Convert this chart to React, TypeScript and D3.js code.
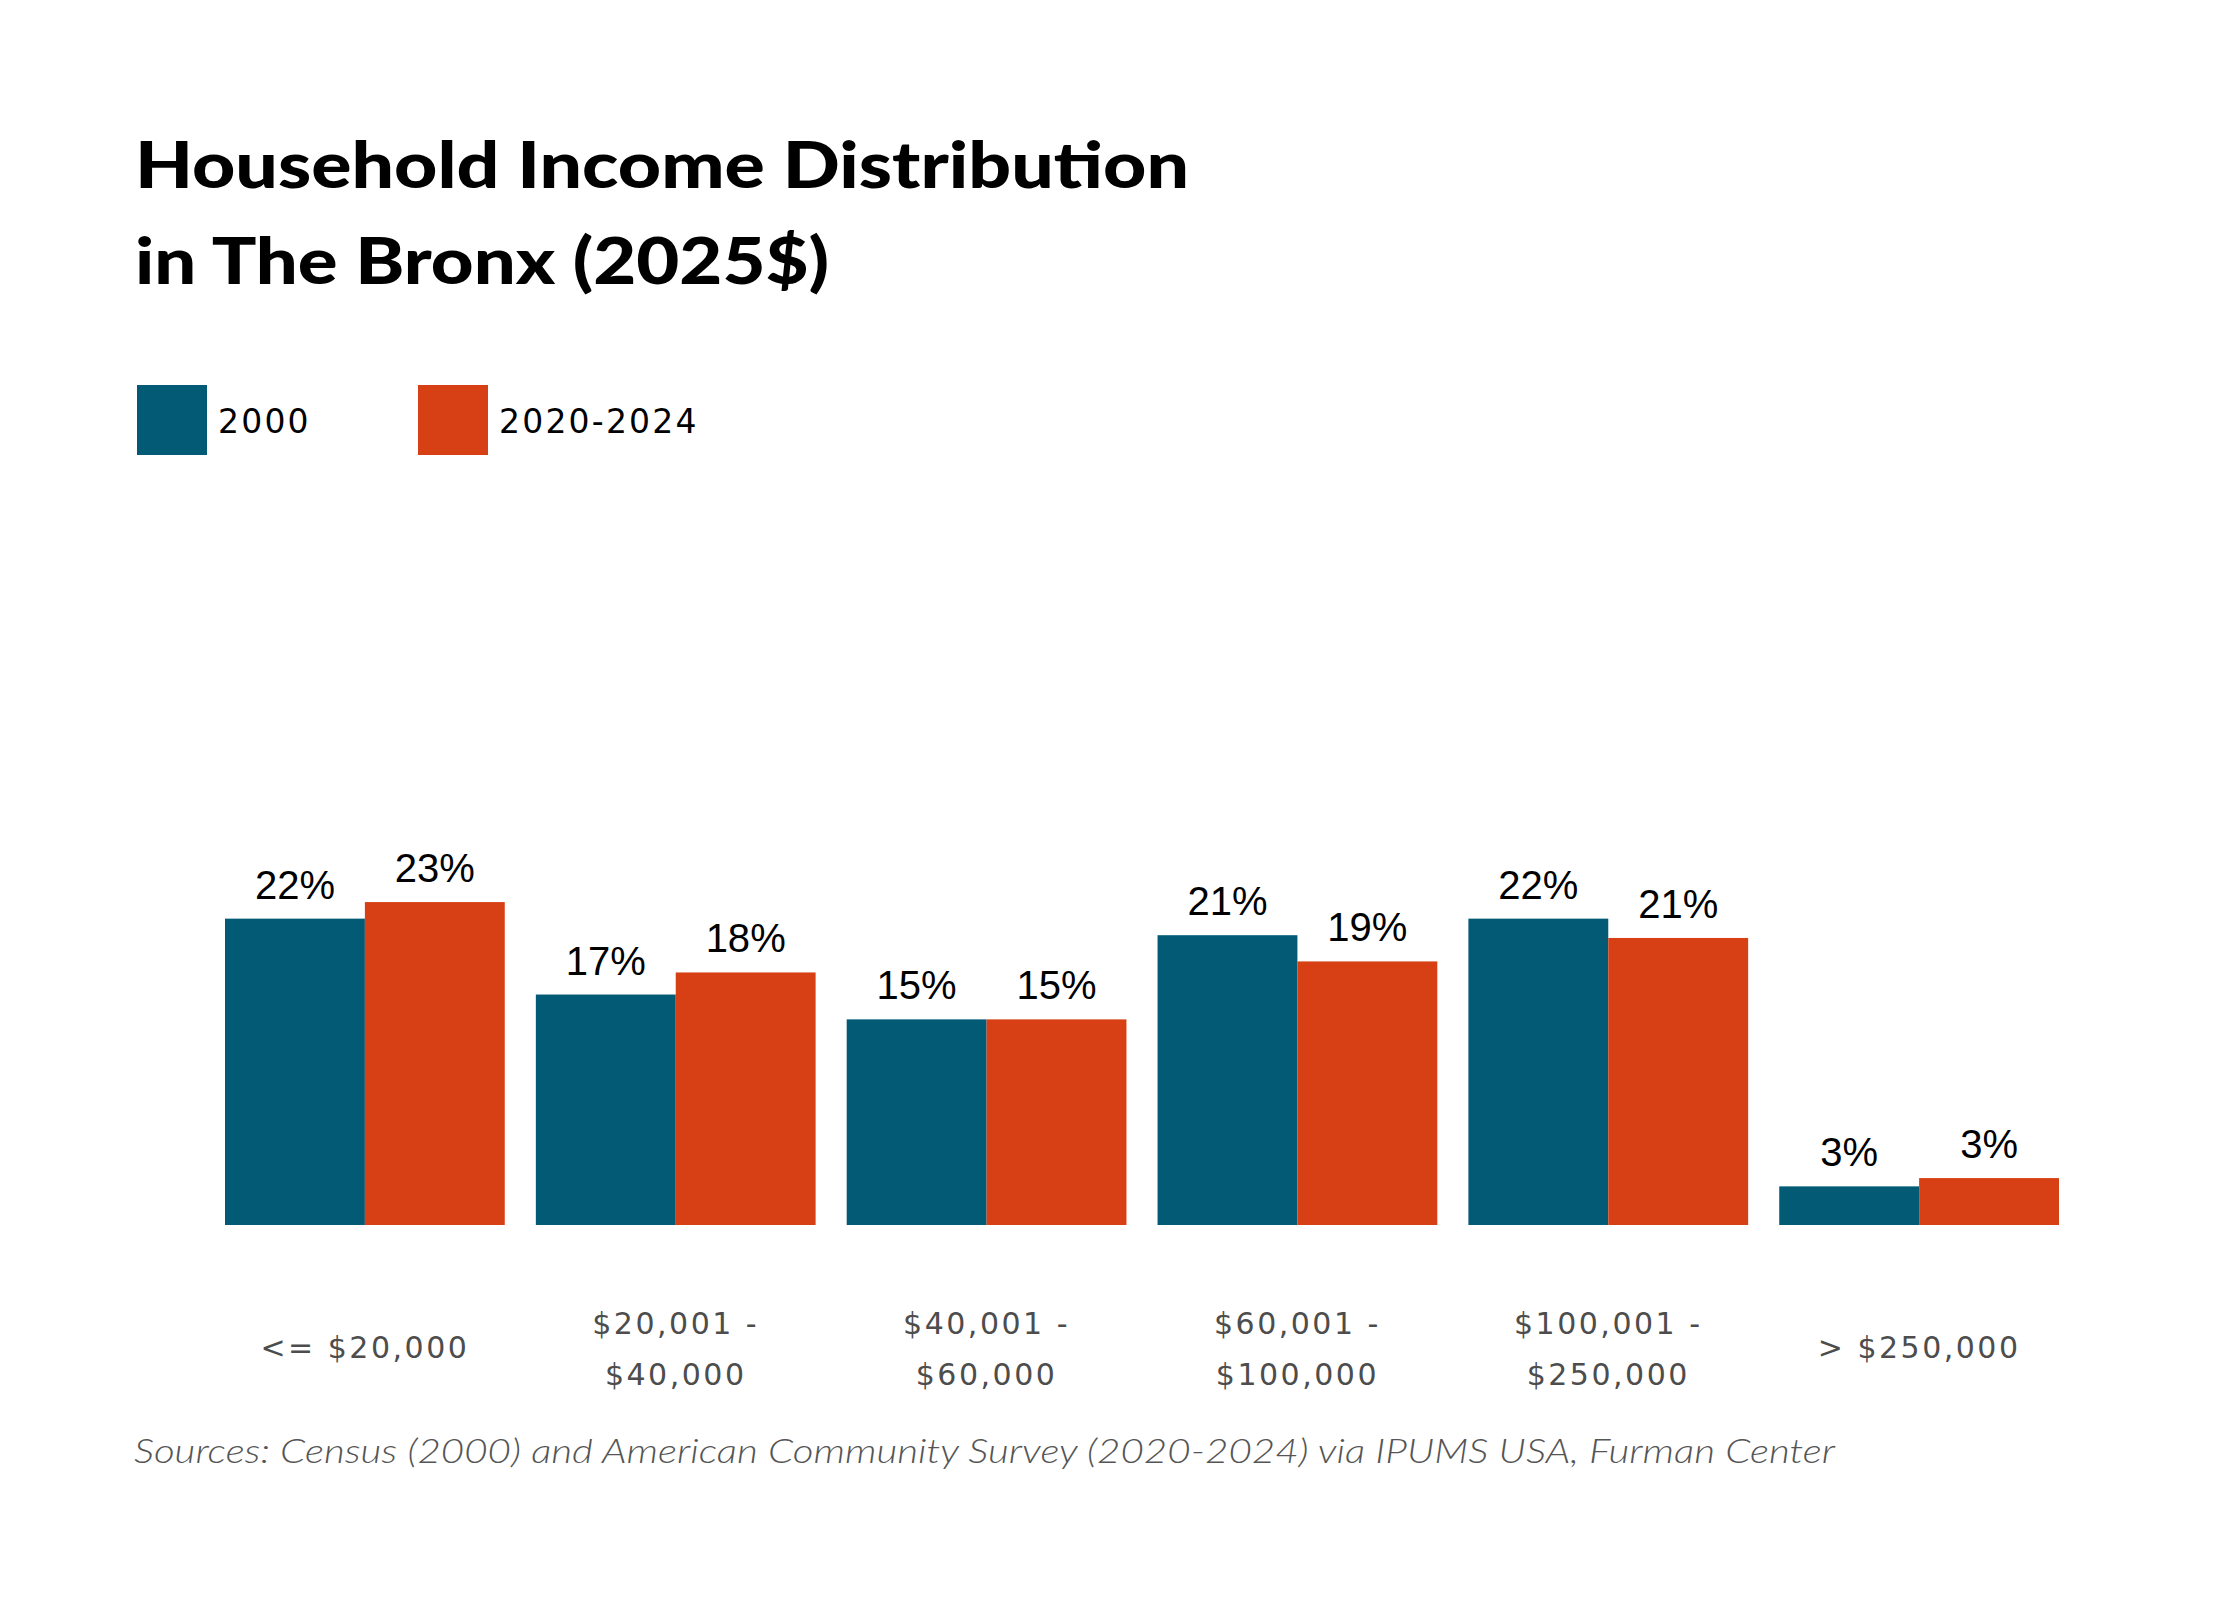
import * as d3 from 'd3'

const categories = ['<= $20,000', '$20,001 - $40,000', '$40,001 - $60,000', '$60,001 - $100,000', '$100,001 - $250,000', '> $250,000']
const categoryLines = [
  ['<= $20,000'],
  ['$20,001 -', '$40,000'],
  ['$40,001 -', '$60,000'],
  ['$60,001 -', '$100,000'],
  ['$100,001 -', '$250,000'],
  ['> $250,000']
]
const seriesNames = ['2000', '2020-2024']
const values2000 = [22.2, 16.7, 14.9, 21.0, 22.2, 2.8]
const values2024 = [23.4, 18.3, 14.9, 19.1, 20.8, 3.4]
const colors = ['#035a75', '#d74014']

const W = 2240
const H = 1600

const App = () => {
  const x0 = d3.scaleBand().domain(categories).range([225, 2059]).paddingInner(0.1)
  const x1 = d3.scaleBand().domain(seriesNames).range([0, x0.bandwidth()])
  const y = d3.scaleLinear().domain([0, 25]).range([1225, 880])
  const series = [values2000, values2024]

  const labelFont = '"DejaVu Sans", sans-serif'

  return (
    <svg width={W} height={H} style={{ position: 'absolute', left: 0, top: 0, background: '#fff' }}>
      <text x={135} y={188} fontFamily='Lato, sans-serif' fontWeight={900} fontSize={64} textLength={1054} lengthAdjust='spacingAndGlyphs' fill='#000'>
        Household Income Distribution
      </text>
      <text x={135} y={284} fontFamily='Lato, sans-serif' fontWeight={900} fontSize={64} textLength={694} lengthAdjust='spacingAndGlyphs' fill='#000'>
        in The Bronx (2025$)
      </text>

      {/* legend */}
      {seriesNames.map((s, i) => (
        <g key={s} transform={`translate(${137 + i * 281},385)`}>
          <rect width={70} height={70} fill={colors[i]} />
          <text x={81} y={48} fontFamily={labelFont} fontSize={33} letterSpacing={2.2} fill='#000'>
            {s}
          </text>
        </g>
      ))}

      {/* bars */}
      {categories.map((c, ci) => (
        <g key={c} transform={`translate(${x0(c)},0)`}>
          {seriesNames.map((s, si) => {
            const v = series[si][ci]
            const bx = x1(s) ?? 0
            return (
              <g key={s}>
                <rect x={bx} y={y(v)} width={x1.bandwidth()} height={y(0) - y(v)} fill={colors[si]} />
                <text
                  x={bx + x1.bandwidth() / 2}
                  y={y(v) - 20}
                  textAnchor='middle'
                  fontFamily='"Liberation Sans", Arial, sans-serif'
                  fontSize={40}
                  fill='#000'
                >
                  {Math.round(v)}%
                </text>
              </g>
            )
          })}
        </g>
      ))}

      {/* category labels */}
      {categories.map((c, ci) => {
        const lines = categoryLines[ci]
        const cx = (x0(c) ?? 0) + x0.bandwidth() / 2
        const baseY = lines.length === 1 ? 1358 : 1334
        return (
          <text key={c} textAnchor='middle' fontFamily={labelFont} fontSize={30} letterSpacing={2.5} fill='#4d4d4d'>
            {lines.map((l, li) => (
              <tspan key={li} x={cx} y={baseY + li * 51}>
                {l}
              </tspan>
            ))}
          </text>
        )
      })}

      <text x={134} y={1463} fontFamily='Lato, sans-serif' fontStyle='italic' fontWeight={300} fontSize={33} textLength={1701} lengthAdjust='spacingAndGlyphs' fill='#555'>
        Sources: Census (2000) and American Community Survey (2020-2024) via IPUMS USA, Furman Center
      </text>
    </svg>
  )
}

export default App
